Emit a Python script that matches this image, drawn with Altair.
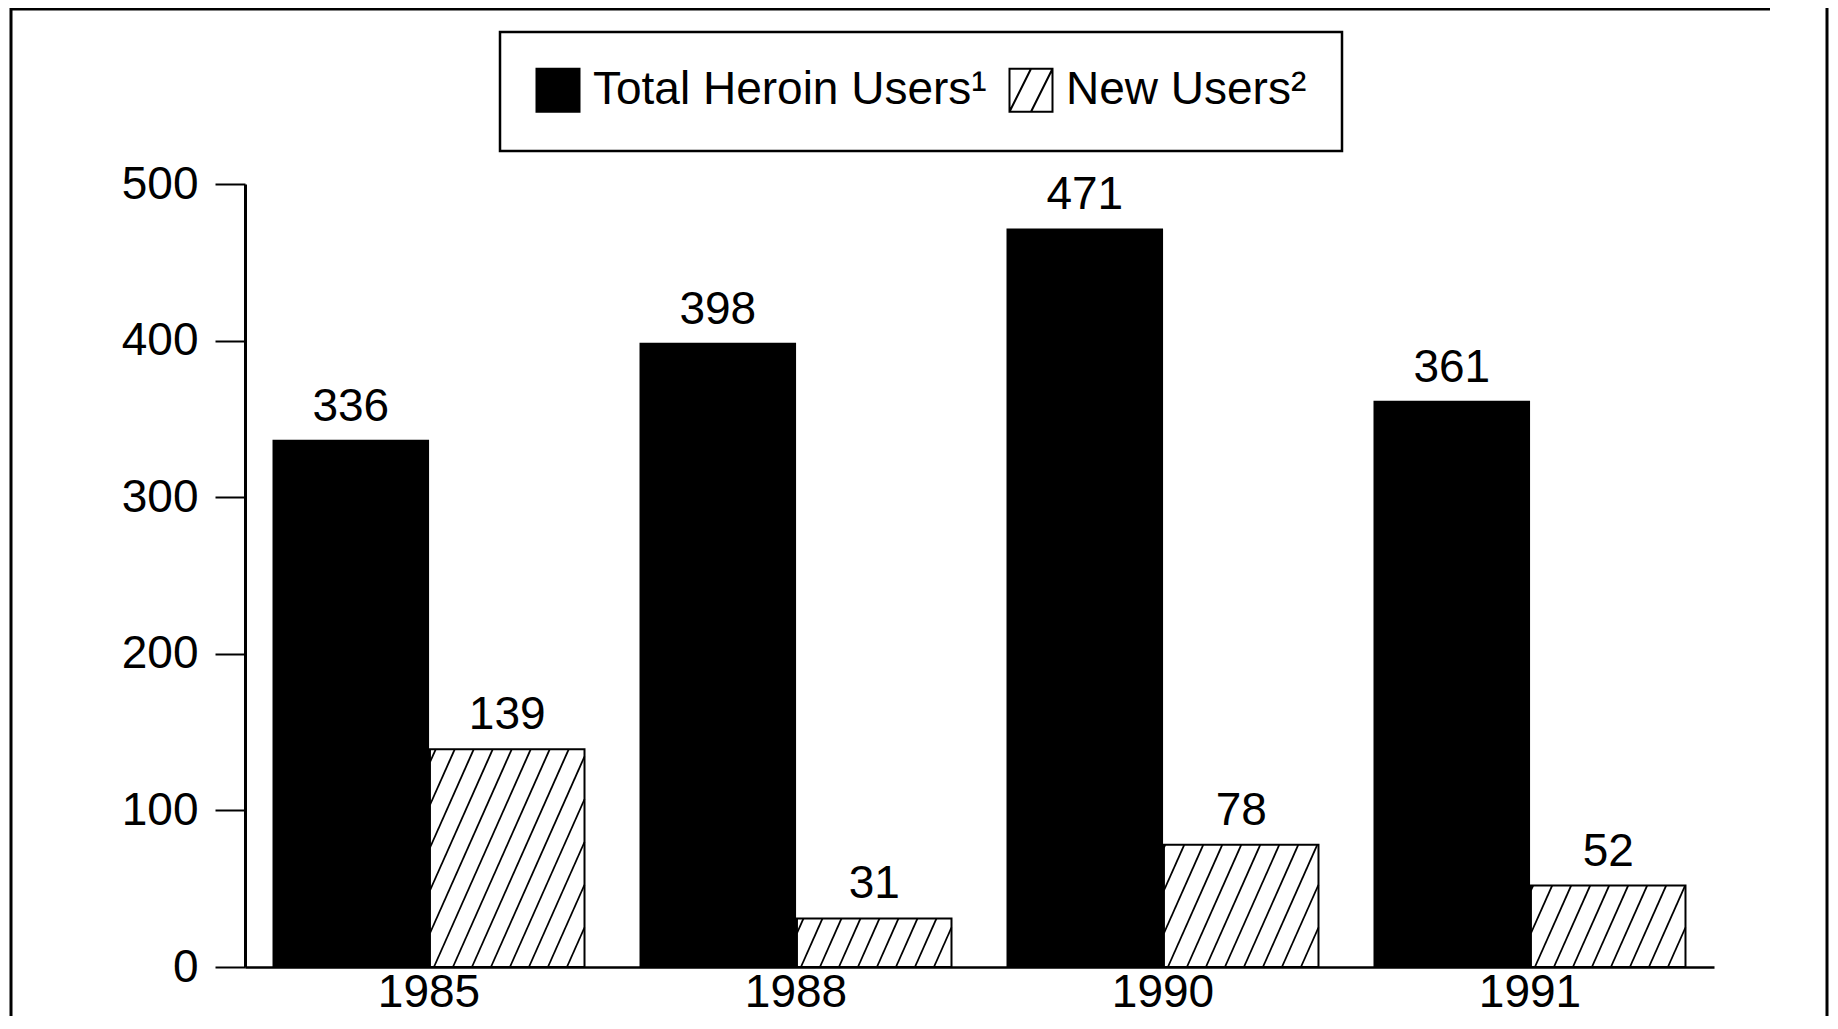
import altair as alt
import pandas as pd
import numpy as np

# ---------------- data ----------------
years = ["1985", "1988", "1990", "1991"]
series_names = ["Total Heroin Users¹", "New Users²"]
total_users = [336, 398, 471, 361]
new_users = [139, 31, 78, 52]
y_ticks = [0, 100, 200, 300, 400, 500]

# ---------------- layout / style ----------------
W, H = 1469, 783
PAD_L, PAD_T, PAD_R, PAD_B = 237, 176, 116, 49
Y_MAX = 500
BAND_PI, BAND_PO = 0.1526, 0.0777
OFF_PI = 0.012
HATCH_SLOPE = 2.25   # dy/dx in pixels
HATCH_GAP = 19       # horizontal spacing in pixels
FONT = "Liberation Sans"
FS = 46

rows = []
for i, yr in enumerate(years):
    rows.append({"year": yr, "series": series_names[0], "value": total_users[i]})
    rows.append({"year": yr, "series": series_names[1], "value": new_users[i]})
df = pd.DataFrame(rows)

# hatch lines for the "new users" bars, expressed in offset units / data units
step = W / (len(years) - BAND_PI + 2 * BAND_PO)
bw = step * (1 - BAND_PI)
ostep = bw / (2 - OFF_PI)
a, b = ostep, bw
px_per_val = H / Y_MAX
hrows = []
lid = 0
for yr, v in zip(years, new_users):
    h = v * px_per_val
    c = a + 4 - HATCH_GAP * np.ceil(h / HATCH_SLOPE / HATCH_GAP + 1)
    while c < b:
        y0 = max(0.0, (a - c) * HATCH_SLOPE)
        y1 = min(h, (b - c) * HATCH_SLOPE)
        if y1 > y0 + 0.5:
            for o, yy in enumerate((y0, y1)):
                xx = c + yy / HATCH_SLOPE
                hrows.append({"year": yr, "lid": lid, "ord": o,
                              "u": xx / bw * 2, "v": yy / px_per_val})
            lid += 1
        c += HATCH_GAP
hdf = pd.DataFrame(hrows)

x_axis = alt.Axis(labelAngle=0, ticks=False, tickSize=0, domainColor="black",
                  domainWidth=2.5, labelFontSize=FS, labelColor="black",
                  labelFont=FONT, labelBaseline="alphabetic", labelPadding=39)
x_scale = alt.Scale(paddingInner=BAND_PI, paddingOuter=BAND_PO)
y_axis = alt.Axis(values=y_ticks, grid=False, tickSize=30, tickWidth=2,
                  tickColor="black", domainColor="black", domainWidth=3,
                  labelFontSize=FS, labelColor="black", labelFont=FONT,
                  labelPadding=17)
y_scale = alt.Scale(domain=[0, Y_MAX], nice=False)
off_scale = alt.Scale(paddingInner=OFF_PI, paddingOuter=0)
label_off_scale = alt.Scale(type="point", padding=(1 - OFF_PI) / 2)

legend_symbol = "M-1,-1H1V1H-1Z M-1,1L0,-1 M0,1L1,-1"

bars = alt.Chart(df).mark_bar(stroke="black", strokeWidth=2).encode(
    x=alt.X("year:N", sort=years, title=None, scale=x_scale, axis=x_axis),
    xOffset=alt.XOffset("series:N", sort=series_names, scale=off_scale),
    y=alt.Y("value:Q", title=None, scale=y_scale, axis=y_axis),
    color=alt.Color(
        "series:N", sort=series_names,
        scale=alt.Scale(domain=series_names, range=["black", "white"]),
        legend=alt.Legend(
            title=None, orient="none", legendX=255, legendY=-152,
            direction="horizontal", symbolType=legend_symbol,
            symbolSize=1849, symbolStrokeColor="black", symbolStrokeWidth=2,
            labelFontSize=FS, labelColor="black", labelFont=FONT,
            labelOffset=12, columnPadding=18, padding=35,
            strokeColor="black", labelLimit=1000,
        ),
    ),
)

hatch = alt.Chart(hdf).mark_line(color="black", strokeWidth=1.8).encode(
    x=alt.X("year:N", sort=years, title=None, scale=x_scale, axis=x_axis,
            bandPosition=0),
    xOffset=alt.XOffset("u:Q", scale=alt.Scale(domain=[0, 2], nice=False, zero=False)),
    y=alt.Y("v:Q", title=None, scale=y_scale, axis=y_axis),
    detail="lid:N",
    order="ord:Q",
)

labels = alt.Chart(df).mark_text(
    baseline="alphabetic", dy=-20, fontSize=FS, font=FONT, color="black"
).encode(
    x=alt.X("year:N", sort=years, title=None, scale=x_scale, axis=x_axis),
    xOffset=alt.XOffset("series:N", sort=series_names, scale=label_off_scale),
    y=alt.Y("value:Q", title=None, scale=y_scale, axis=y_axis),
    text=alt.Text("value:Q"),
)

one = alt.Data(values=[{"k": 1}])
frame_left = alt.Chart(one).mark_rule(color="black", strokeWidth=3).encode(
    x=alt.value(-PAD_L + 3), y=alt.value(-PAD_T), y2=alt.value(H + PAD_B))
frame_top = alt.Chart(one).mark_rule(color="black", strokeWidth=3).encode(
    x=alt.value(-PAD_L + 2), x2=alt.value(1525), y=alt.value(-PAD_T + 1))
frame_right = alt.Chart(one).mark_rule(color="black", strokeWidth=3).encode(
    x=alt.value(W + PAD_R - 3), y=alt.value(-PAD_T), y2=alt.value(H + PAD_B))

chart = alt.layer(bars, hatch, labels, frame_left, frame_top, frame_right).resolve_scale(
    xOffset="independent"
).properties(
    width=W, height=H,
    padding={"left": PAD_L, "top": PAD_T, "right": PAD_R, "bottom": PAD_B},
    autosize=alt.AutoSizeParams(type="none"),
    view=alt.ViewBackground(stroke="transparent", strokeWidth=0),
).configure_view(stroke="transparent", strokeWidth=0).configure(font=FONT).configure_legend(strokeWidth=2.5)

chart.save("out.html", embed_options={"renderer": "svg", "actions": False})
